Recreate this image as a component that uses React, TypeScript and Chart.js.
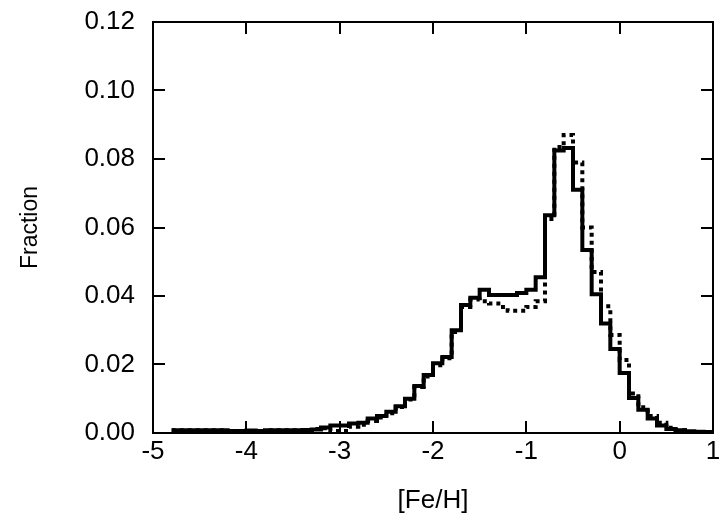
import React, { useEffect, useRef } from "react";
import { Chart, registerables } from "chart.js";

Chart.register(...registerables);

// Left edges of the 0.1-dex [Fe/H] bins, plus the final right edge (1.0)
const BIN_EDGES = [
  -4.8, -4.7, -4.6, -4.5, -4.4, -4.3, -4.2, -4.1, -4.0, -3.9,
  -3.8, -3.7, -3.6, -3.5, -3.4, -3.3, -3.2, -3.1, -3.0, -2.9,
  -2.8, -2.7, -2.6, -2.5, -2.4, -2.3, -2.2, -2.1, -2.0, -1.9,
  -1.8, -1.7, -1.6, -1.5, -1.4, -1.3, -1.2, -1.1, -1.0, -0.9,
  -0.8, -0.7, -0.6, -0.5, -0.4, -0.3, -0.2, -0.1, 0.0, 0.1,
  0.2, 0.3, 0.4, 0.5, 0.6, 0.7, 0.8, 0.9, 1.0,
];

// Solid histogram (one value per bin)
const SOLID = [
  0.0008, 0.0008, 0.0008, 0.0008, 0.0008, 0.0008, 0.0006, 0.0006, 0.0007, 0.0006,
  0.0008, 0.0008, 0.0008, 0.0008, 0.0009, 0.0010, 0.0016, 0.0022, 0.0022, 0.0028,
  0.0030, 0.0042, 0.0050, 0.0062, 0.0078, 0.0100, 0.0137, 0.0169, 0.0204, 0.0222,
  0.0300, 0.0374, 0.0395, 0.0418, 0.0403, 0.0403, 0.0403, 0.0409, 0.0418, 0.0455,
  0.0636, 0.0825, 0.0832, 0.0710, 0.0534, 0.0405, 0.0320, 0.0245, 0.0175, 0.0102,
  0.0068, 0.0042, 0.0022, 0.0012, 0.0008, 0.0005, 0.0004, 0.0003,
];

// Dotted histogram (one value per bin)
const DOTTED = [
  0.0008, 0.0008, 0.0008, 0.0008, 0.0008, 0.0008, 0.0001, 0.0004, 0.0001, 0.0004,
  0.0008, 0.0008, 0.0008, 0.0008, 0.0008, 0.0012, 0.0014, 0.0006, 0.0006, 0.0018,
  0.0024, 0.0035, 0.0045, 0.0058, 0.0076, 0.0098, 0.0134, 0.0165, 0.0198, 0.0218,
  0.0295, 0.0368, 0.0390, 0.0385, 0.0378, 0.0368, 0.0357, 0.0357, 0.0368, 0.0385,
  0.0625, 0.0835, 0.0870, 0.0790, 0.0600, 0.0470, 0.0370, 0.0286, 0.0213, 0.0115,
  0.0075, 0.0050, 0.0030, 0.0015, 0.0008, 0.0001, 0.0001, 0.0001,
];

const X_MIN = -5;
const X_MAX = 1;
const Y_MIN = 0;
const Y_MAX = 0.12;
const X_STEP = 1;
const Y_STEP = 0.02;
const X_TITLE = "[Fe/H]";
const Y_TITLE = "Fraction";

function toSteps(values: number[]) {
  const pts = values.map((v, i) => ({ x: BIN_EDGES[i], y: v }));
  pts.push({ x: BIN_EDGES[values.length], y: values[values.length - 1] });
  return pts;
}

const FONT = "'Liberation Sans', Arial, Helvetica, sans-serif";

const frameTicks = {
  id: "frameTicks",
  afterDatasetsDraw(chart: any) {
    const { ctx, chartArea, scales } = chart;
    const { left, right, top, bottom } = chartArea;
    const TL = 12;
    ctx.save();
    ctx.strokeStyle = "#000";
    ctx.lineWidth = 2;
    ctx.strokeRect(left, top, right - left, bottom - top);
    ctx.beginPath();
    for (const t of scales.x.ticks) {
      const v = t.value;
      if (v <= X_MIN || v >= X_MAX) continue;
      const px = Math.round(scales.x.getPixelForValue(v));
      ctx.moveTo(px, bottom);
      ctx.lineTo(px, bottom - TL);
      ctx.moveTo(px, top);
      ctx.lineTo(px, top + TL);
    }
    for (const t of scales.y.ticks) {
      const v = t.value;
      if (v <= Y_MIN + 1e-9 || v >= Y_MAX - 1e-9) continue;
      const py = Math.round(scales.y.getPixelForValue(v));
      ctx.moveTo(left, py);
      ctx.lineTo(left + TL, py);
      ctx.moveTo(right, py);
      ctx.lineTo(right - TL, py);
    }
    ctx.stroke();
    ctx.restore();
  },
};

export default function App() {
  const ref = useRef<HTMLCanvasElement>(null);

  useEffect(() => {
    if (!ref.current) return;
    const chart = new Chart(ref.current, {
      type: "line",
      data: {
        datasets: [
          {
            label: "solid",
            data: toSteps(SOLID),
            stepped: "before",
            borderColor: "#000",
            borderWidth: 4,
            pointRadius: 0,
            fill: false,
          },
          {
            label: "dotted",
            data: toSteps(DOTTED),
            stepped: "before",
            borderColor: "#000",
            borderWidth: 4,
            borderDash: [4, 4],
            pointRadius: 0,
            fill: false,
          },
        ],
      },
      options: {
        responsive: false,
        animation: false,
        layout: { padding: { top: 22, right: 14, left: 0, bottom: 0 } },
        plugins: {
          legend: { display: false },
          tooltip: { enabled: false },
        },
        scales: {
          x: {
            type: "linear",
            min: X_MIN,
            max: X_MAX,
            grid: { display: false, drawTicks: false },
            border: { display: false },
            ticks: {
              stepSize: X_STEP,
              color: "#000",
              padding: 3,
              font: { family: FONT, size: 26 },
              maxRotation: 0,
            },
            title: {
              display: true,
              text: X_TITLE,
              color: "#000",
              font: { family: FONT, size: 26 },
              padding: { top: 0, bottom: 7 },
            },
            afterFit: (s: any) => {
              s.height = 90;
              s.paddingLeft = 0;
              s.paddingRight = 0;
            },
          },
          y: {
            min: Y_MIN,
            max: Y_MAX,
            grid: { display: false, drawTicks: false },
            border: { display: false },
            ticks: {
              stepSize: Y_STEP,
              color: "#000",
              padding: 18,
              font: { family: FONT, size: 26 },
              callback: (v: any) => Number(v).toFixed(2),
            },
            title: {
              display: true,
              text: Y_TITLE,
              color: "#000",
              font: { family: FONT, size: 23 },
              padding: { top: 17, bottom: 0 },
            },
            afterFit: (s: any) => {
              s.width = 153;
              s.paddingTop = 0;
              s.paddingBottom = 0;
            },
          },
        },
      },
      plugins: [frameTicks],
    });
    return () => chart.destroy();
  }, []);

  return (
    <div style={{ position: "absolute", left: 0, top: 0, width: 727, height: 523, background: "#fff" }}>
      <canvas ref={ref} width={727} height={523} />
    </div>
  );
}
